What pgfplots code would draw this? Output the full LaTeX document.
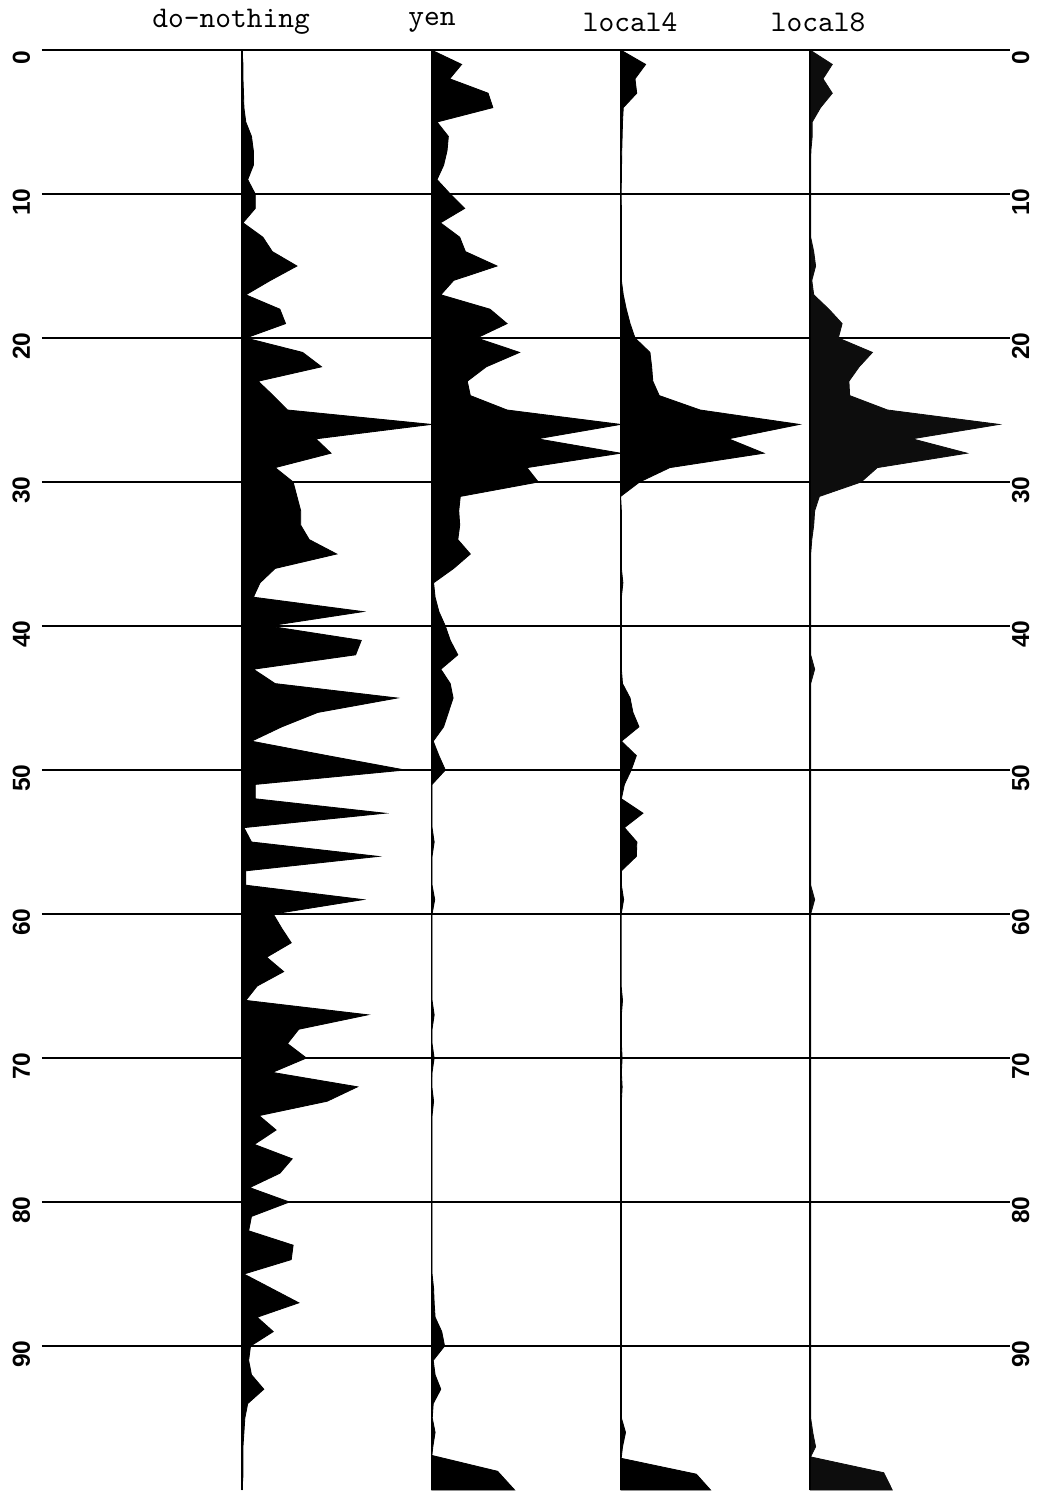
\documentclass[border=0pt]{standalone}
\usepackage{pgfplots}
\pgfplotsset{compat=1.18}
\usepackage{pgfplotstable}
\usepackage{fontspec}
\newfontfamily\tickfont{Liberation Sans}

\pgfplotstableread{
y v
0 0.0
1 0.005
2 0.005
3 0.008
4 0.01
5 0.02
6 0.05
7 0.06
8 0.06
9 0.03
10 0.07
11 0.07
12 0.005
13 0.11
14 0.16
15 0.29
16 0.15
17 0.02
18 0.20
19 0.23
20 0.02
21 0.32
22 0.42
23 0.085
24 0.165
25 0.24
26 1.0
27 0.39
28 0.47
29 0.175
30 0.27
31 0.29
32 0.31
33 0.31
34 0.355
35 0.50
36 0.175
37 0.095
38 0.06
39 0.64
40 0.14
41 0.63
42 0.60
43 0.06
44 0.175
45 0.82
46 0.40
47 0.21
48 0.05
49 0.45
50 0.86
51 0.07
52 0.07
53 0.755
54 0.01
55 0.05
56 0.72
57 0.02
58 0.02
59 0.64
60 0.165
61 0.21
62 0.26
63 0.13
64 0.22
65 0.08
66 0.02
67 0.665
68 0.30
69 0.24
70 0.34
71 0.16
72 0.61
73 0.45
74 0.09
75 0.18
76 0.065
77 0.265
78 0.20
79 0.04
80 0.25
81 0.05
82 0.035
83 0.27
84 0.26
85 0.01
86 0.155
87 0.30
88 0.08
89 0.165
90 0.045
91 0.035
92 0.05
93 0.115
94 0.03
95 0.015
96 0.01
97 0.005
98 0.005
99 0.005
100 0.0
}\dn

\pgfplotstableread{
y v
0 0.0
1 0.16
2 0.097
3 0.30
4 0.325
5 0.03
6 0.09
7 0.083
8 0.065
9 0.03
10 0.10
11 0.176
12 0.048
13 0.15
14 0.18
15 0.347
16 0.118
17 0.05
18 0.31
19 0.40
20 0.24
21 0.466
22 0.29
23 0.19
24 0.206
25 0.40
26 1.0
27 0.56
28 1.0
29 0.505
30 0.565
31 0.153
32 0.145
33 0.15
34 0.14
35 0.206
36 0.118
37 0.012
38 0.02
39 0.04
40 0.074
41 0.10
42 0.14
43 0.05
44 0.10
45 0.115
46 0.09
47 0.065
48 0.01
49 0.04
50 0.074
51 0.004
52 0.004
53 0.004
54 0.004
55 0.015
56 0.004
57 0.004
58 0.004
59 0.018
60 0.004
61 0.004
62 0.004
63 0.004
64 0.004
65 0.004
66 0.004
67 0.015
68 0.004
69 0.004
70 0.015
71 0.004
72 0.003
73 0.012
74 0.004
75 0.004
76 0.004
77 0.004
78 0.004
79 0.004
80 0.004
81 0.004
82 0.004
83 0.004
84 0.004
85 0.004
86 0.012
87 0.015
88 0.02
89 0.055
90 0.07
91 0.01
92 0.02
93 0.05
94 0.01
95 0.005
96 0.02
97 0.008
97.6 0.003
98.7 0.35
100 0.44
100 0.0
}\yen

\pgfplotstableread{
y v
0 0.0
1 0.132
2 0.076
3 0.085
4 0.014
5 0.01
6 0.008
7 0.006
8 0.005
9 0.004
10 0.003
11 0.004
12 0.004
13 0.004
14 0.004
15 0.004
16 0.004
17 0.014
18 0.03
19 0.05
20 0.076
21 0.155
22 0.164
23 0.17
24 0.204
25 0.42
26 0.945
27 0.57
28 0.757
29 0.26
30 0.10
31 0.0
32 0.004
33 0.004
34 0.004
35 0.004
36 0.004
37 0.012
38 0.004
39 0.004
40 0.004
41 0.004
42 0.004
43 0.004
44 0.01
45 0.05
46 0.065
47 0.097
48 0.004
49 0.083
50 0.056
51 0.02
52 0.004
53 0.118
54 0.02
55 0.086
56 0.083
57 0.004
58 0.004
59 0.016
60 0.003
61 0.003
62 0.003
63 0.003
64 0.003
65 0.003
66 0.01
67 0.004
68 0.004
69 0.004
70 0.008
71 0.004
72 0.008
73 0.004
74 0.004
75 0.004
76 0.004
77 0.004
78 0.004
79 0.004
80 0.004
81 0.004
82 0.004
83 0.004
84 0.004
85 0.004
86 0.004
87 0.004
88 0.004
89 0.004
90 0.004
91 0.004
92 0.004
93 0.004
94 0.004
95 0.004
96 0.026
97 0.01
97.8 0.003
98.9 0.40
100 0.475
100 0.0
}\lfour

\pgfplotstableread{
y v
0 0.0
1 0.118
2 0.069
3 0.118
4 0.056
5 0.012
6 0.012
7 0.005
8 0.004
9 0.004
10 0.004
11 0.004
12 0.004
13 0.004
14 0.02
15 0.03
16 0.01
17 0.02
18 0.10
19 0.17
20 0.15
21 0.33
22 0.26
23 0.206
24 0.21
25 0.41
26 1.0
27 0.54
28 0.83
29 0.356
30 0.27
31 0.05
32 0.025
33 0.02
34 0.01
35 0.004
36 0.004
37 0.004
38 0.004
39 0.004
40 0.004
41 0.004
42 0.004
43 0.025
44 0.004
45 0.004
46 0.004
47 0.004
48 0.004
49 0.004
50 0.004
51 0.004
52 0.004
53 0.004
54 0.004
55 0.004
56 0.004
57 0.004
58 0.004
59 0.025
60 0.004
61 0.004
62 0.004
63 0.004
64 0.004
65 0.004
66 0.004
67 0.004
68 0.004
69 0.004
70 0.004
71 0.004
72 0.004
73 0.004
74 0.004
75 0.004
76 0.004
77 0.004
78 0.004
79 0.004
80 0.004
81 0.004
82 0.004
83 0.004
84 0.004
85 0.004
86 0.004
87 0.004
88 0.004
89 0.004
90 0.004
91 0.004
92 0.004
93 0.004
94 0.004
95 0.004
96 0.015
97 0.03
97.7 0.003
98.8 0.39
100 0.435
100 0.0
}\leight

\pgfplotsset{
  commonax/.style={
    scale only axis, width=338.8pt, height=504pt,
    xmin=-0.05652, xmax=5.0571, ymin=0, ymax=100, y dir=reverse,
    axis line style={draw=none},
    xtick=\empty,
    ytick={0,10,20,30,40,50,60,70,80,90},
    major tick length=0pt,
    /pgf/number format/assume math mode=true,
  }
}

\begin{document}
\begin{tikzpicture}
\useasboundingbox (-14.7pt,-0.7pt) rectangle (347.9pt,521.5pt);
\begin{axis}[
  commonax,
  clip=false,
  ymajorgrids,
  grid style={black, line width=0.7pt},
  yticklabel pos=left,
  yticklabel style={font=\tickfont\bfseries\fontsize{8.6}{10}\selectfont, rotate=90, anchor=south, inner sep=0pt, xshift=-2.8pt},
  yticklabel shift=4pt,
]
\addplot[black, line width=0.9pt] coordinates {(-0.05652,0) (5.0571,0)};
\addplot[draw=black, line width=0.3pt, fill=black] table[x expr=\thisrow{v}+1, y=y] {\dn};
\addplot[draw=black, line width=0.3pt, fill=black] table[x expr=\thisrow{v}+2, y=y] {\yen};
\addplot[draw=black, line width=0.3pt, fill=black] table[x expr=\thisrow{v}+3, y=y] {\lfour};
\addplot[draw=black!95, line width=0.3pt, fill=black!95] table[x expr=\thisrow{v}+4, y=y] {\leight};
\addplot[black, line width=0.5pt] coordinates {(1,0) (1,100)};
\addplot[black, line width=0.5pt] coordinates {(2,0) (2,100)};
\addplot[black, line width=0.5pt] coordinates {(3,0) (3,100)};
\addplot[black, line width=0.5pt] coordinates {(4,0) (4,100)};
\node[font=\ttfamily\fontsize{10.5}{12}\selectfont] at (axis cs:0.942,-1.94) {do-nothing};
\node[font=\ttfamily\fontsize{10.5}{12}\selectfont] at (axis cs:2.004,-1.94) {yen};
\node[font=\ttfamily\fontsize{10.5}{12}\selectfont] at (axis cs:3.05,-1.94) {local4};
\node[font=\ttfamily\fontsize{10.5}{12}\selectfont] at (axis cs:4.043,-1.94) {local8};
\end{axis}
\begin{axis}[
  commonax,
  yticklabel pos=right,
  yticklabel style={font=\tickfont\bfseries\fontsize{8.6}{10}\selectfont, rotate=90, anchor=north, inner sep=0pt, xshift=-2.8pt},
  yticklabel shift=0.5pt,
]
\end{axis}
\end{tikzpicture}
\end{document}
